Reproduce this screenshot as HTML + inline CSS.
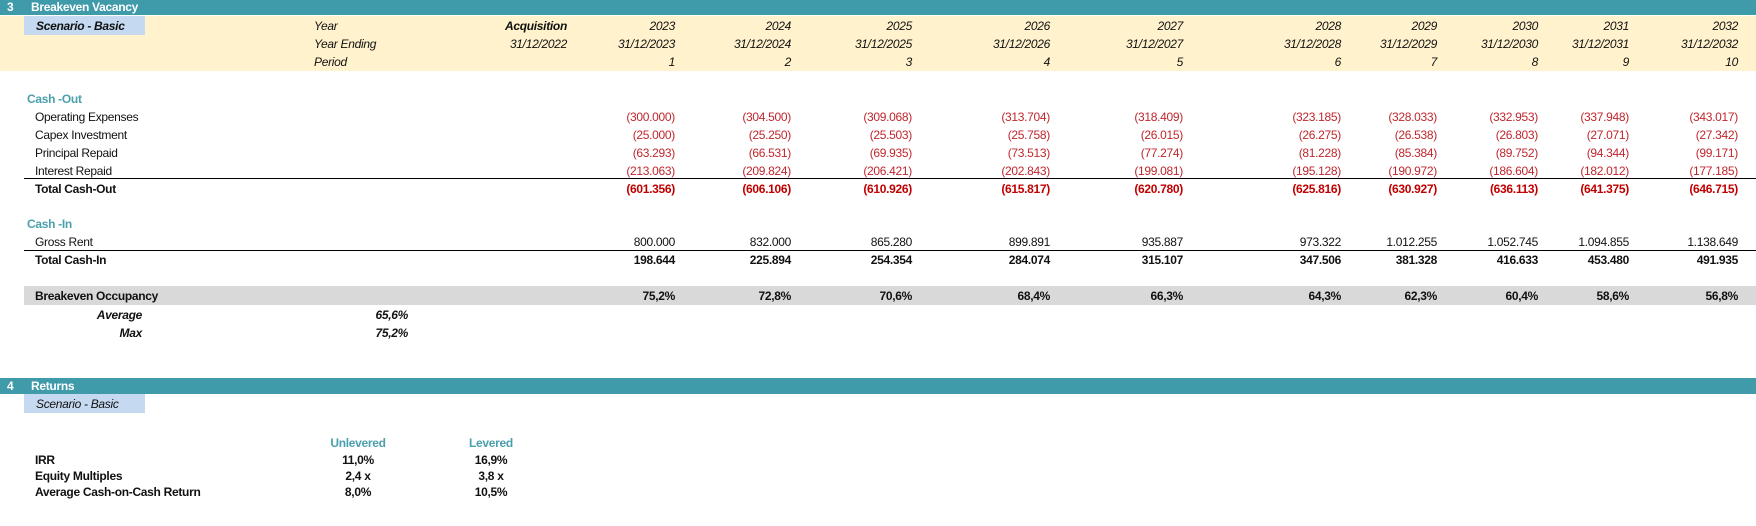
<!DOCTYPE html>
<html><head><meta charset="utf-8">
<style>
html,body{margin:0;padding:0;background:#fff;}
#sheet{position:relative;width:1756px;height:526px;overflow:hidden;font-family:"Liberation Sans",Arial,sans-serif;font-size:12px;color:#111;letter-spacing:-0.3px;}
.t{position:absolute;line-height:16px;white-space:nowrap;}
.r{text-align:right;}
.c{text-align:center;}
.b{font-weight:bold;}
.i{font-style:italic;}
.neg{color:#c0262d;}
.negb{color:#c00000;font-weight:bold;}
.teal{color:#4aa0ad;font-weight:bold;}
.box{position:absolute;}
</style></head><body>
<div id="sheet">
  <div class="box" style="left:0;top:0;width:1756px;height:15px;background:#3f9aa9"></div>
  <div class="t b" style="left:7px;top:-1px;color:#fff">3</div>
  <div class="t b" style="left:31px;top:-1px;color:#fff">Breakeven Vacancy</div>
  <div class="box" style="left:0;top:16px;width:1756px;height:55px;background:#fff2cc"></div>
  <div class="box" style="left:24px;top:16px;width:121px;height:19px;background:#c5d9f1"></div>
  <div class="t b i" style="left:36px;top:18px">Scenario - Basic</div>
  <div class="t i" style="left:314px;top:18px">Year</div>
  <div class="t i" style="left:314px;top:36px">Year Ending</div>
  <div class="t i" style="left:314px;top:54px">Period</div>
  <div class="t i b r" style="left:467px;width:100px;top:18px">Acquisition</div>
  <div class="t i r" style="left:467px;width:100px;top:36px">31/12/2022</div>

  <div class="t teal" style="left:27px;top:91px">Cash -Out</div>
  <div class="t" style="left:35px;top:109px">Operating Expenses</div>
  <div class="t" style="left:35px;top:127px">Capex Investment</div>
  <div class="t" style="left:35px;top:145px">Principal Repaid</div>
  <div class="t" style="left:35px;top:163px">Interest Repaid</div>
  <div class="box" style="left:24px;top:178px;width:1732px;height:1px;background:#000"></div>
  <div class="t b" style="left:35px;top:181px">Total Cash-Out</div>

  <div class="t teal" style="left:27px;top:216px">Cash -In</div>
  <div class="t" style="left:35px;top:234px">Gross Rent</div>
  <div class="box" style="left:24px;top:250px;width:1732px;height:1px;background:#000"></div>
  <div class="t b" style="left:35px;top:252px">Total Cash-In</div>

  <div class="box" style="left:24px;top:286px;width:1732px;height:19px;background:#d9d9d9"></div>
  <div class="t b" style="left:35px;top:288px">Breakeven Occupancy</div>
  <div class="t b i r" style="left:42px;width:100px;top:307px">Average</div>
  <div class="t b i r" style="left:42px;width:100px;top:325px">Max</div>
  <div class="t b i r" style="left:308px;width:100px;top:307px">65,6%</div>
  <div class="t b i r" style="left:308px;width:100px;top:325px">75,2%</div>

  <div class="box" style="left:0;top:378px;width:1756px;height:16px;background:#3f9aa9"></div>
  <div class="t b" style="left:7px;top:378px;color:#fff">4</div>
  <div class="t b" style="left:31px;top:378px;color:#fff">Returns</div>
  <div class="box" style="left:24px;top:394px;width:121px;height:19px;background:#c5d9f1"></div>
  <div class="t i" style="left:36px;top:396px">Scenario - Basic</div>

  <div class="t teal c" style="left:308px;width:100px;top:435px">Unlevered</div>
  <div class="t teal c" style="left:441px;width:100px;top:435px">Levered</div>
  <div class="t b" style="left:35px;top:452px">IRR</div>
  <div class="t b" style="left:35px;top:468px">Equity Multiples</div>
  <div class="t b" style="left:35px;top:484px">Average Cash-on-Cash Return</div>
  <div class="t b c" style="left:308px;width:100px;top:452px">11,0%</div>
  <div class="t b c" style="left:441px;width:100px;top:452px">16,9%</div>
  <div class="t b c" style="left:308px;width:100px;top:468px">2,4 x</div>
  <div class="t b c" style="left:441px;width:100px;top:468px">3,8 x</div>
  <div class="t b c" style="left:308px;width:100px;top:484px">8,0%</div>
  <div class="t b c" style="left:441px;width:100px;top:484px">10,5%</div>
</div>
<script>
const years = ["2023","2024","2025","2026","2027","2028","2029","2030","2031","2032"];
const dates = ["31/12/2023","31/12/2024","31/12/2025","31/12/2026","31/12/2027","31/12/2028","31/12/2029","31/12/2030","31/12/2031","31/12/2032"];
const periods = ["1","2","3","4","5","6","7","8","9","10"];
const opex = ["(300.000)","(304.500)","(309.068)","(313.704)","(318.409)","(323.185)","(328.033)","(332.953)","(337.948)","(343.017)"];
const capex = ["(25.000)","(25.250)","(25.503)","(25.758)","(26.015)","(26.275)","(26.538)","(26.803)","(27.071)","(27.342)"];
const principal = ["(63.293)","(66.531)","(69.935)","(73.513)","(77.274)","(81.228)","(85.384)","(89.752)","(94.344)","(99.171)"];
const interest = ["(213.063)","(209.824)","(206.421)","(202.843)","(199.081)","(195.128)","(190.972)","(186.604)","(182.012)","(177.185)"];
const totalOut = ["(601.356)","(606.106)","(610.926)","(615.817)","(620.780)","(625.816)","(630.927)","(636.113)","(641.375)","(646.715)"];
const grossRent = ["800.000","832.000","865.280","899.891","935.887","973.322","1.012.255","1.052.745","1.094.855","1.138.649"];
const totalIn = ["198.644","225.894","254.354","284.074","315.107","347.506","381.328","416.633","453.480","491.935"];
const occupancy = ["75,2%","72,8%","70,6%","68,4%","66,3%","64,3%","62,3%","60,4%","58,6%","56,8%"];

const colRight = [675,791,912,1050,1183,1341,1437,1538,1629,1738];
const rows = [
  {vals:years, top:18, cls:"i", name:"year"},
  {vals:dates, top:36, cls:"i", name:"year-ending"},
  {vals:periods, top:54, cls:"i", name:"period"},
  {vals:opex, top:109, cls:"neg", name:"operating-expenses"},
  {vals:capex, top:127, cls:"neg", name:"capex-investment"},
  {vals:principal, top:145, cls:"neg", name:"principal-repaid"},
  {vals:interest, top:163, cls:"neg", name:"interest-repaid"},
  {vals:totalOut, top:181, cls:"negb", name:"total-cash-out"},
  {vals:grossRent, top:234, cls:"", name:"gross-rent"},
  {vals:totalIn, top:252, cls:"b", name:"total-cash-in"},
  {vals:occupancy, top:288, cls:"b", name:"breakeven-occupancy"}
];
const sheet = document.getElementById('sheet');
rows.forEach(row => {
  row.vals.forEach((v, i) => {
    const el = document.createElement('div');
    el.className = 't r ' + row.cls;
    el.style.left = (colRight[i] - 120) + 'px';
    el.style.width = '120px';
    el.style.top = row.top + 'px';
    el.textContent = v;
    
    
    sheet.appendChild(el);
  });
});
</script>
</body></html>
